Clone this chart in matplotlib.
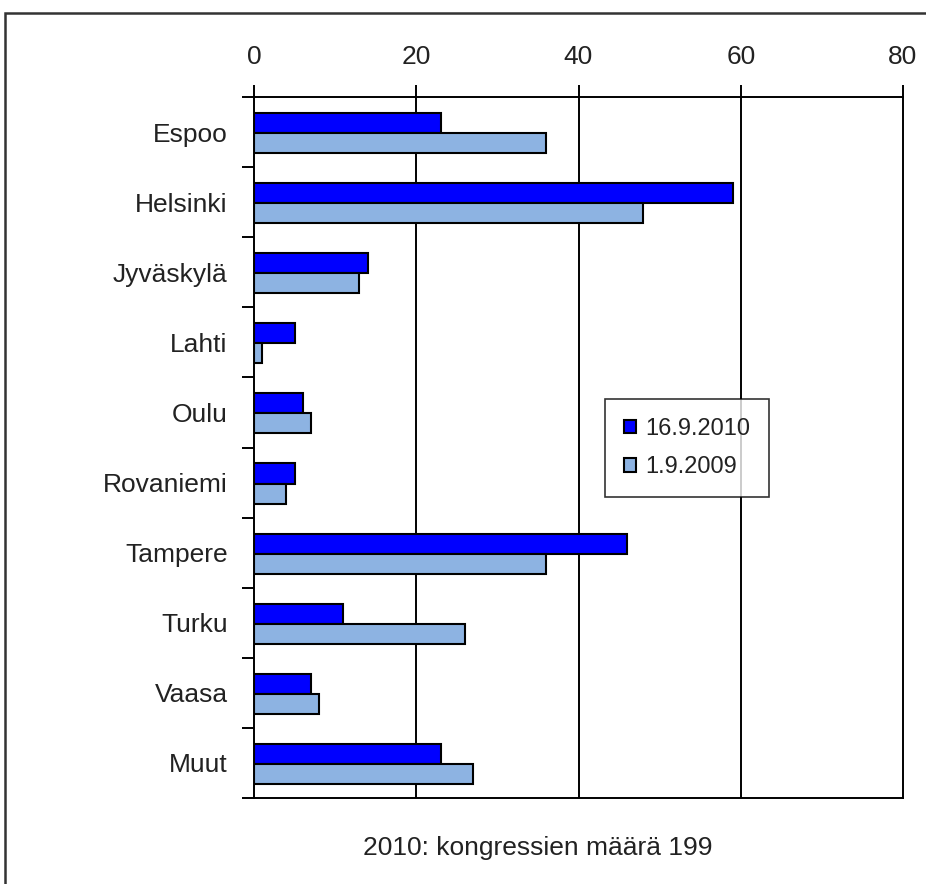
import matplotlib.pyplot as plt
import numpy as np
from matplotlib.patches import Rectangle

# kongressit kaupungeittain
kaupungit = ['Espoo', 'Helsinki', 'Jyväskylä', 'Lahti', 'Oulu',
             'Rovaniemi', 'Tampere', 'Turku', 'Vaasa', 'Muut']
v2010 = [23, 59, 14, 5, 6, 5, 46, 11, 7, 23]
v2009 = [36, 48, 13, 1, 7, 4, 36, 26, 8, 27]
sarjat = ['16.9.2010', '1.9.2009']
xtiks = [0, 20, 40, 60, 80]
alaotsikko = '2010: kongressien määrä 199'

plt.rcParams['font.family'] = ['Liberation Sans', 'DejaVu Sans']
plt.rcParams['text.color'] = '#222222'

W, H = 926, 884
fig = plt.figure(figsize=(W / 100, H / 100), dpi=100)

# kehys kuvan ympärillä (oikea ja alareuna jäävät kuvan ulkopuolelle)
fig.patches.append(Rectangle((5 / W, -0.1), 1.2, 1 - 13 / H + 0.1,
                             transform=fig.transFigure, fill=False,
                             edgecolor='#333333', linewidth=1.8))

ax = fig.add_axes([254 / W, 1 - 798 / H, (903 - 254) / W, (798 - 97) / H])

n = len(kaupungit)
y = np.arange(n)
h = 0.286
ax.barh(y + 0.514 - h / 2, v2010, height=h, color='#0000FF',
        edgecolor='black', linewidth=1.5, label=sarjat[0], zorder=3)
ax.barh(y + 0.514 + h / 2, v2009, height=h, color='#8DB3E2',
        edgecolor='black', linewidth=1.5, label=sarjat[1], zorder=3)

ax.set_xlim(0, 80)
ax.set_ylim(n, 0)

for g in xtiks[1:-1]:
    ax.axvline(g, color='black', linewidth=1.4, zorder=1)

ax.xaxis.tick_top()
ax.set_xticks(xtiks)
ax.set_xticklabels([str(t) for t in xtiks])
ax.tick_params(axis='x', direction='out', length=9, width=1.4,
               pad=11, labelsize=19, labelcolor='#222222')

ax.set_yticks(np.arange(n + 1))
ax.set_yticklabels([])
ax.tick_params(axis='y', which='major', direction='out', length=9, width=1.4)
ax.set_yticks(y + 0.5, minor=True)
ax.set_yticklabels(kaupungit, minor=True)
ax.tick_params(axis='y', which='minor', length=0, pad=19, labelsize=19,
               labelcolor='#222222')

for s in ax.spines.values():
    s.set_linewidth(1.4)

leg = ax.legend(loc='upper left', bbox_to_anchor=((605 - 254) / 649, (798 - 399) / 701),
                fontsize=17, frameon=True, fancybox=False, edgecolor='black',
                handlelength=0.5, handleheight=0.5, handletextpad=0.4,
                labelspacing=0.7, borderpad=0.8, borderaxespad=0)
leg.get_frame().set_linewidth(1.2)

fig.text(538 / W, 1 - 848 / H, alaotsikko, ha='center', va='center', fontsize=19)

fig.savefig('out.png', dpi=100)
